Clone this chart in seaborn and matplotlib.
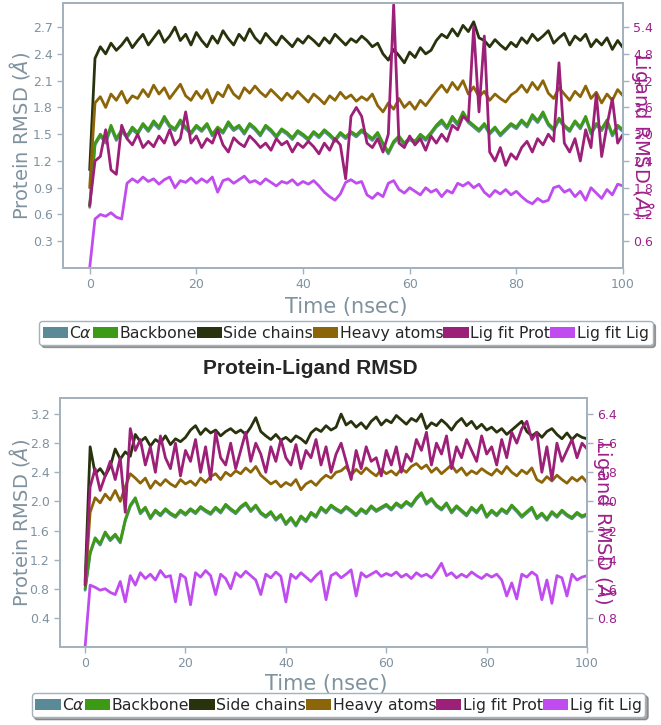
import matplotlib
matplotlib.use("Agg")
import matplotlib.pyplot as plt
import numpy as np
import seaborn as sns
from matplotlib.patches import Patch

# one frame per nsec, 0..100
time_ns = np.arange(0, 101)

LABELS = [r"C$\alpha$", "Backbone", "Side chains", "Heavy atoms", "Lig fit Prot", "Lig fit Lig"]
COLORS = ["#5a8a98", "#3c9a14", "#28330d", "#8c6508", "#9c1f78", "#c04cf0"]

# ---- top complex: protein RMSD (left axis) ----
ca_top = [0.68,
          1.38, 1.48, 1.40, 1.57, 1.43, 1.53, 1.46, 1.55, 1.50, 1.60,
          1.53, 1.62, 1.56, 1.67, 1.58, 1.54, 1.63, 1.56, 1.50, 1.58,
          1.53, 1.60, 1.48, 1.56, 1.51, 1.61, 1.54, 1.58, 1.50, 1.60,
          1.55, 1.48, 1.58, 1.53, 1.46, 1.54, 1.50, 1.44, 1.52, 1.48,
          1.43, 1.51, 1.46, 1.53, 1.48, 1.42, 1.50, 1.45, 1.51, 1.47,
          1.53, 1.48, 1.43, 1.50, 1.38, 1.28, 1.40, 1.46, 1.38, 1.44,
          1.40, 1.48, 1.43, 1.50, 1.58, 1.63, 1.56, 1.67, 1.60, 1.72,
          1.63, 1.58, 1.53, 1.60, 1.50, 1.56, 1.48, 1.54, 1.60, 1.56,
          1.64, 1.58, 1.69, 1.63, 1.72, 1.60, 1.54, 1.66, 1.58, 1.53,
          1.63, 1.56, 1.68, 1.50, 1.60, 1.54, 1.64, 1.48, 1.58, 1.53]
backbone_top = [0.70,
                1.40, 1.50, 1.42, 1.60, 1.45, 1.55, 1.48, 1.58, 1.52, 1.62,
                1.55, 1.65, 1.58, 1.70, 1.60, 1.56, 1.66, 1.58, 1.52, 1.60,
                1.55, 1.62, 1.50, 1.58, 1.53, 1.64, 1.56, 1.60, 1.52, 1.62,
                1.57, 1.50, 1.60, 1.55, 1.48, 1.56, 1.52, 1.46, 1.54, 1.50,
                1.45, 1.53, 1.48, 1.55, 1.50, 1.44, 1.52, 1.47, 1.53, 1.49,
                1.55, 1.50, 1.45, 1.52, 1.40, 1.30, 1.42, 1.48, 1.40, 1.46,
                1.42, 1.50, 1.45, 1.52, 1.60, 1.66, 1.58, 1.70, 1.62, 1.75,
                1.65, 1.60, 1.55, 1.62, 1.52, 1.58, 1.50, 1.56, 1.62, 1.58,
                1.66, 1.60, 1.72, 1.65, 1.75, 1.62, 1.56, 1.68, 1.60, 1.55,
                1.65, 1.58, 1.70, 1.52, 1.62, 1.56, 1.66, 1.50, 1.60, 1.55]
side_top = [1.10,
            2.35, 2.48, 2.40, 2.52, 2.44, 2.50, 2.58, 2.47, 2.55, 2.62,
            2.50, 2.58, 2.66, 2.53, 2.60, 2.70, 2.55, 2.62, 2.50, 2.64,
            2.55, 2.48, 2.60, 2.52, 2.66, 2.57, 2.50, 2.62, 2.55, 2.68,
            2.58, 2.52, 2.63, 2.56, 2.50, 2.60, 2.54, 2.48, 2.57, 2.52,
            2.60, 2.55, 2.49, 2.58, 2.52, 2.62, 2.56, 2.50, 2.57, 2.53,
            2.60, 2.55, 2.48, 2.52, 2.40, 2.33, 2.45, 2.38, 2.30, 2.42,
            2.36, 2.47, 2.40, 2.44, 2.55, 2.62, 2.58, 2.68, 2.60, 2.72,
            2.65, 2.76, 2.58, 2.55, 2.48, 2.56, 2.50, 2.45, 2.53, 2.48,
            2.58, 2.52, 2.62, 2.55, 2.60, 2.66, 2.52, 2.58, 2.63, 2.50,
            2.60, 2.55, 2.62, 2.48, 2.56, 2.50, 2.58, 2.45, 2.55, 2.47]
heavy_top = [0.90,
             1.85, 1.92, 1.80, 1.95, 1.88, 1.98, 1.85, 1.93, 1.90, 2.00,
             1.92, 2.05, 1.95, 2.02, 1.90, 1.98, 2.06, 1.93, 1.88, 1.98,
             1.90, 2.00, 1.85, 1.97, 1.92, 2.05, 1.95, 1.90, 2.02, 1.96,
             2.04, 1.97, 1.92, 2.00, 1.94, 1.88, 1.96, 1.90, 1.98, 1.92,
             1.86, 1.95, 1.90, 1.84, 1.93, 1.88, 1.97, 1.90, 1.94, 1.87,
             1.92, 1.88, 1.95, 1.82, 1.75, 1.85, 1.78, 1.90, 1.80, 1.86,
             1.78, 1.88, 1.82, 1.90, 1.98, 2.05, 1.97, 2.08, 2.00, 2.10,
             1.95, 2.03, 1.92, 1.98, 1.88, 1.95, 1.90, 1.86, 1.94, 1.98,
             2.05, 1.97, 2.08, 2.00, 2.10, 1.96, 1.90, 2.02, 1.95, 1.88,
             1.98, 1.92, 2.04, 1.90, 1.97, 1.85, 1.95, 1.88, 2.00, 1.93]

# ---- top complex: ligand RMSD (right axis) ----
ligprot_top = [1.40,
               2.40, 2.50, 3.10, 2.20, 2.10, 3.20, 2.90, 2.76, 3.00, 2.70,
               2.84, 2.72, 2.96, 2.80, 3.10, 2.76, 2.90, 3.50, 2.80, 2.96,
               2.70, 2.90, 2.80, 3.10, 2.76, 2.60, 2.92, 2.80, 2.72, 2.96,
               2.84, 2.70, 2.80, 2.64, 2.90, 2.76, 2.84, 2.60, 2.80, 2.70,
               2.84, 2.72, 2.56, 2.80, 2.64, 2.90, 2.76, 2.00, 3.40, 3.60,
               3.40, 2.80, 2.70, 2.90, 2.60, 3.00, 5.90, 2.80, 2.70, 2.96,
               2.76, 2.90, 2.64, 2.96, 2.80, 3.00, 2.84, 3.20, 3.10, 3.40,
               3.30, 5.40, 3.50, 5.20, 2.60, 2.40, 2.70, 2.30, 2.56, 2.44,
               2.70, 2.84, 2.60, 2.90, 2.76, 3.00, 2.84, 4.60, 2.80, 2.60,
               2.90, 2.40, 3.10, 2.70, 3.90, 2.50, 3.20, 3.80, 2.80, 3.00]
ligfit_top = [0.00,
              1.10, 1.20, 1.16, 1.24, 1.14, 1.10, 1.90, 2.00, 1.92, 2.04,
              1.94, 2.00, 1.88, 1.98, 2.04, 1.80, 1.96, 1.92, 2.02, 1.90,
              2.00, 1.92, 2.04, 1.70, 1.96, 2.00, 1.90, 1.98, 2.06, 1.92,
              1.96, 1.88, 2.00, 1.92, 1.84, 1.94, 1.90, 1.98, 1.86, 1.94,
              1.88, 1.96, 1.84, 1.70, 1.60, 1.52, 1.66, 1.92, 1.98, 1.90,
              1.94, 1.64, 1.56, 1.68, 1.60, 1.90, 1.96, 1.76, 1.68, 1.80,
              1.72, 1.64, 1.80, 1.70, 1.76, 1.60, 1.74, 1.68, 1.90, 1.84,
              1.92, 1.80, 1.88, 1.70, 1.60, 1.74, 1.66, 1.76, 1.64, 1.72,
              1.60, 1.50, 1.44, 1.56, 1.48, 1.52, 1.80, 1.84, 1.70, 1.76,
              1.60, 1.72, 1.52, 1.80, 1.68, 1.56, 1.76, 1.64, 1.88, 1.84]

# ---- bottom complex: protein RMSD (left axis) ----
ca_bot = [0.78,
          1.28, 1.48, 1.40, 1.56, 1.46, 1.53, 1.43, 1.73, 1.93, 2.03,
          1.83, 1.90, 1.76, 1.86, 1.80, 1.88, 1.82, 1.78, 1.86, 1.81,
          1.88, 1.83, 1.91, 1.86, 1.82, 1.90, 1.84, 1.94, 1.88, 1.83,
          1.91, 1.96, 1.86, 1.93, 1.83, 1.78, 1.84, 1.74, 1.80, 1.68,
          1.76, 1.66, 1.78, 1.72, 1.83, 1.78, 1.90, 1.84, 1.93, 1.88,
          1.84, 1.91, 1.86, 1.80, 1.88, 1.83, 1.92, 1.86, 1.90, 1.94,
          1.88, 1.96, 1.91, 1.98, 1.93, 2.03, 2.10, 1.96, 2.02, 1.93,
          1.88, 1.96, 1.84, 1.92, 1.86, 1.80, 1.90, 1.84, 1.93, 1.78,
          1.86, 1.80, 1.88, 1.83, 1.93, 1.86, 1.78, 1.84, 1.90, 1.76,
          1.82, 1.74, 1.84, 1.78, 1.86, 1.80, 1.76, 1.83, 1.78, 1.81]
backbone_bot = [0.80,
                1.30, 1.50, 1.42, 1.58, 1.48, 1.55, 1.45, 1.75, 1.95, 2.05,
                1.85, 1.92, 1.78, 1.88, 1.82, 1.90, 1.84, 1.80, 1.88, 1.83,
                1.90, 1.85, 1.93, 1.88, 1.84, 1.92, 1.86, 1.96, 1.90, 1.85,
                1.93, 1.98, 1.88, 1.95, 1.85, 1.80, 1.86, 1.76, 1.82, 1.70,
                1.78, 1.68, 1.80, 1.74, 1.85, 1.80, 1.92, 1.86, 1.95, 1.90,
                1.86, 1.93, 1.88, 1.82, 1.90, 1.85, 1.94, 1.88, 1.92, 1.96,
                1.90, 1.98, 1.93, 2.00, 1.95, 2.05, 2.12, 1.98, 2.04, 1.95,
                1.90, 1.98, 1.86, 1.94, 1.88, 1.82, 1.92, 1.86, 1.95, 1.80,
                1.88, 1.82, 1.90, 1.85, 1.95, 1.88, 1.80, 1.86, 1.92, 1.78,
                1.84, 1.76, 1.86, 1.80, 1.88, 1.82, 1.78, 1.85, 1.80, 1.83]
side_bot = [0.90,
            2.75, 2.38, 2.45, 2.35, 2.48, 2.72, 2.58, 2.68, 2.62, 2.92,
            2.82, 2.88, 2.76, 2.85, 2.80, 2.90, 2.78, 2.86, 2.82, 2.88,
            2.98, 3.04, 2.92, 3.00, 2.94, 2.98, 2.90, 2.96, 3.00, 2.94,
            2.98, 2.92, 3.02, 3.15, 2.96, 2.90, 2.85, 2.92, 2.84, 2.88,
            2.82, 2.90, 2.86, 2.80, 2.94, 3.00, 2.96, 3.04, 2.98, 3.02,
            3.20, 3.05, 3.10, 3.02, 3.08, 3.00, 3.10, 3.16, 3.05, 3.12,
            3.08, 3.18, 3.12, 3.06, 3.14, 3.10, 3.20, 3.00, 3.08, 3.04,
            3.12, 3.06, 2.98, 3.08, 3.14, 3.04, 3.10, 3.00, 3.06, 2.98,
            3.02, 2.95, 3.00, 2.92, 2.98, 3.04, 3.10, 2.96, 2.90, 2.95,
            2.88, 2.96, 3.00, 2.92, 2.86, 2.94, 2.85, 2.92, 2.88, 2.86]
heavy_bot = [0.85,
             1.85, 2.05, 1.98, 2.10, 2.02, 2.15, 2.00, 2.20, 2.38, 2.32,
             2.25, 2.32, 2.18, 2.28, 2.22, 2.30, 2.24, 2.20, 2.30, 2.24,
             2.28, 2.22, 2.32, 2.26, 2.34, 2.38, 2.30, 2.40, 2.35, 2.42,
             2.38, 2.46, 2.40, 2.48, 2.36, 2.30, 2.24, 2.28, 2.20, 2.26,
             2.22, 2.30, 2.16, 2.24, 2.28, 2.22, 2.30, 2.36, 2.32, 2.40,
             2.42, 2.48, 2.36, 2.44, 2.38, 2.46, 2.40, 2.35, 2.44, 2.38,
             2.42, 2.36, 2.45, 2.40, 2.48, 2.52, 2.45, 2.50, 2.40, 2.46,
             2.38, 2.44, 2.50, 2.40, 2.46, 2.36, 2.42, 2.38, 2.45, 2.40,
             2.36, 2.44, 2.38, 2.48, 2.40, 2.35, 2.43, 2.38, 2.46, 2.30,
             2.26, 2.34, 2.28, 2.36, 2.30, 2.25, 2.33, 2.28, 2.34, 2.26]

# ---- bottom complex: ligand RMSD (right axis) ----
ligprot_bot = [1.70,
               4.40, 4.90, 4.30, 4.70, 5.10, 4.60, 5.20, 3.70, 6.00, 5.40,
               5.70, 5.00, 5.50, 4.80, 5.80, 5.20, 4.90, 5.60, 4.70, 5.40,
               5.10, 5.70, 4.80, 5.50, 4.60, 5.90, 5.20, 5.00, 5.60, 4.90,
               5.40, 5.90, 5.10, 5.60, 5.30, 4.80, 5.50, 5.10, 5.70, 5.20,
               5.00, 5.56, 4.90, 5.40, 5.20, 5.70, 5.00, 5.50, 4.80, 5.30,
               5.60, 5.10, 4.60, 5.40, 4.90, 5.50, 5.10, 5.20, 4.70, 5.40,
               5.00, 5.50, 4.80, 5.30, 5.10, 5.70, 5.40, 5.90, 5.00, 5.60,
               5.30, 5.80, 4.90, 5.50, 5.20, 5.70, 5.40, 5.10, 5.80, 5.30,
               5.50, 5.00, 5.70, 5.20, 5.90, 5.60, 6.00, 6.20, 5.70, 5.90,
               4.80, 5.50, 4.60, 5.60, 5.10, 5.40, 5.70, 5.20, 5.60, 5.44]
ligfit_bot = [0.00,
              1.70, 1.64, 1.56, 1.60, 1.50, 1.44, 1.80, 1.24, 1.96, 1.70,
              2.04, 1.88, 2.00, 1.84, 2.10, 1.92, 1.96, 1.24, 2.00, 1.90,
              1.16, 2.04, 1.92, 2.10, 1.96, 1.44, 2.00, 1.88, 1.60, 2.04,
              1.92, 2.08, 1.96, 1.84, 1.44, 2.00, 1.90, 2.06, 1.94, 1.24,
              2.00, 1.88, 2.04, 1.92, 1.80, 1.96, 2.08, 1.30, 1.96, 2.04,
              1.90, 2.00, 2.12, 1.40, 2.04, 1.92, 2.00, 2.08, 1.94, 2.02,
              1.96, 2.06, 1.92, 2.00, 1.88, 2.04, 1.94, 2.00, 1.90, 2.08,
              2.30, 1.96, 2.04, 1.90, 2.00, 1.92, 2.06, 1.96, 1.88, 2.00,
              1.92, 2.00, 1.84, 1.40, 1.76, 1.32, 2.00, 1.92, 2.06, 1.96,
              1.30, 1.84, 1.20, 1.96, 1.90, 1.40, 2.00, 1.84, 1.92, 1.96]

prot_ticks_top = [0.3, 0.6, 0.9, 1.2, 1.5, 1.8, 2.1, 2.4, 2.7]
lig_ticks_top = [0.6, 1.2, 1.8, 2.4, 3.0, 3.6, 4.2, 4.8, 5.4]
prot_ticks_bot = [0.4, 0.8, 1.2, 1.6, 2.0, 2.4, 2.8, 3.2]
lig_ticks_bot = [0.8, 1.6, 2.4, 3.2, 4.0, 4.8, 5.6, 6.4]
time_ticks = [0, 20, 40, 60, 80, 100]

SPINE = "#a3b2bd"
TEXT_GRAY = "#7f929f"
LIG_COLOR = "#9e1f8a"

sns.set_style("ticks")
plt.rcParams["font.family"] = ["DejaVu Sans"]
plt.rcParams["mathtext.fontset"] = "dejavusans"


def draw_panel(ax, protein, ligand, prot_top, prot_ticks, lig_ticks):

    for vals, color in zip(protein, COLORS[:4]):
        sns.lineplot(x=time_ns, y=vals, ax=ax, color=color, lw=2.0, legend=False)

    ax2 = ax.twinx()
    for vals, color in zip(ligand, COLORS[4:]):
        sns.lineplot(x=time_ns, y=vals, ax=ax2, color=color, lw=2.0, legend=False)

    ax.set_xlim(-5, 100)
    ax.set_ylim(0, prot_top)
    ax2.set_ylim(0, 2 * prot_top)
    ax.set_xticks(time_ticks)
    ax.set_yticks(prot_ticks)
    ax2.set_yticks(lig_ticks)

    for a in (ax, ax2):
        for sp in a.spines.values():
            sp.set_color(SPINE)
            sp.set_linewidth(1.4)
    ax.tick_params(axis="both", colors=SPINE, labelcolor=TEXT_GRAY, labelsize=9, length=4, width=1)
    ax2.tick_params(axis="y", colors=SPINE, labelcolor=LIG_COLOR, labelsize=9, length=4, width=1)

    ax.set_xlabel("Time (nsec)", fontsize=15, color=TEXT_GRAY)
    ax.set_ylabel(r"Protein RMSD ($\AA$)", fontsize=14, color=TEXT_GRAY, va="center")
    ax2.set_ylabel(r"Ligand RMSD ($\AA$)", fontsize=14, color=LIG_COLOR, rotation=270,
                   va="center", ha="center")
    ax.xaxis.set_label_coords(0.506, -0.11)
    ax.yaxis.set_label_coords(-0.077, 0.5)
    ax2.yaxis.set_label_coords(1.034, 0.5)

    return ax2


fig = plt.figure(figsize=(6.61, 7.25), dpi=100)
ax_top = fig.add_axes([0.0953, 0.6303, 0.8472, 0.3655])
ax_bot = fig.add_axes([0.0908, 0.1076, 0.7973, 0.3434])

draw_panel(ax_top, [ca_top, backbone_top, side_top, heavy_top], [ligprot_top, ligfit_top],
           2.97, prot_ticks_top, lig_ticks_top)
draw_panel(ax_bot, [ca_bot, backbone_bot, side_bot, heavy_bot], [ligprot_bot, ligfit_bot],
           3.42, prot_ticks_bot, lig_ticks_bot)

handles = [Patch(facecolor=c, edgecolor="none") for c in COLORS]
for anchor in [(0.523, 0.541), (0.512, 0.0276)]:
    fig.legend(handles, LABELS, loc="center", bbox_to_anchor=anchor, ncol=6, fontsize=11.3,
               handlelength=1.6, handletextpad=0.1, columnspacing=0.0, borderpad=0.25,
               borderaxespad=0.0, frameon=True, fancybox=True, shadow=True, edgecolor=SPINE)

fig.text(0.469, 0.492, "Protein-Ligand RMSD", ha="center", va="center", fontsize=15,
         fontweight="bold", family="Liberation Sans")

fig.savefig("out.png", dpi=100)
